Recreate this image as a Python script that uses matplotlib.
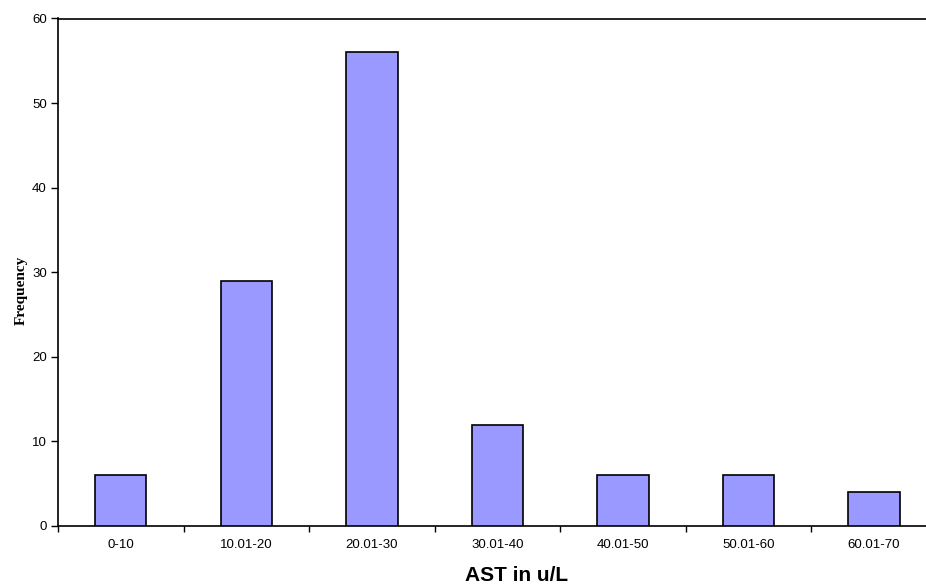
import matplotlib
matplotlib.use("Agg")
import matplotlib.pyplot as plt
import numpy as np

# histogram of AST values
categories = ["0-10", "10.01-20", "20.01-30", "30.01-40", "40.01-50", "50.01-60", "60.01-70"]
frequency = [6, 29, 56, 12, 6, 6, 4]

W, H = 926, 588
fig = plt.figure(figsize=(W / 100, H / 100), dpi=100)
left, right = 58, 936.6
top, bottom = 18.5, 526
ax = fig.add_axes([left / W, 1 - bottom / H, (right - left) / W, (bottom - top) / H])

x = np.arange(len(categories))
ax.bar(x, frequency, width=0.41, color="#9999FF", edgecolor="black", linewidth=1.2, zorder=3)

ax.set_xlim(-0.5, len(categories) - 0.5)
ax.set_ylim(0, 60)
ax.set_yticks(np.arange(0, 61, 10))
ax.set_xticks(x)
ax.set_xticklabels(categories, family="Liberation Sans", fontsize=9.5)
ax.set_xticks(np.arange(-0.5, len(categories) + 0.5, 1), minor=True)
ax.tick_params(axis="x", which="major", length=0, pad=9.5)
ax.tick_params(axis="x", which="minor", length=4, width=1, direction="out")
ax.tick_params(axis="y", length=5, width=1, direction="out", labelsize=9.5, pad=3)
for lab in ax.get_yticklabels():
    lab.set_family("Liberation Sans")

ax.spines["right"].set_visible(False)
for s in ["left", "bottom", "top"]:
    ax.spines[s].set_linewidth(1.2)

ax.set_xlabel("AST in u/L", family="Liberation Sans", fontsize=15, fontweight="bold")
ax.xaxis.set_label_coords(0.522, -0.079)
ax.set_ylabel("Frequency", family="Liberation Serif", fontsize=11, fontweight="bold")
ax.yaxis.set_label_coords(-0.034, 0.465)

fig.savefig("out.png", dpi=100)
